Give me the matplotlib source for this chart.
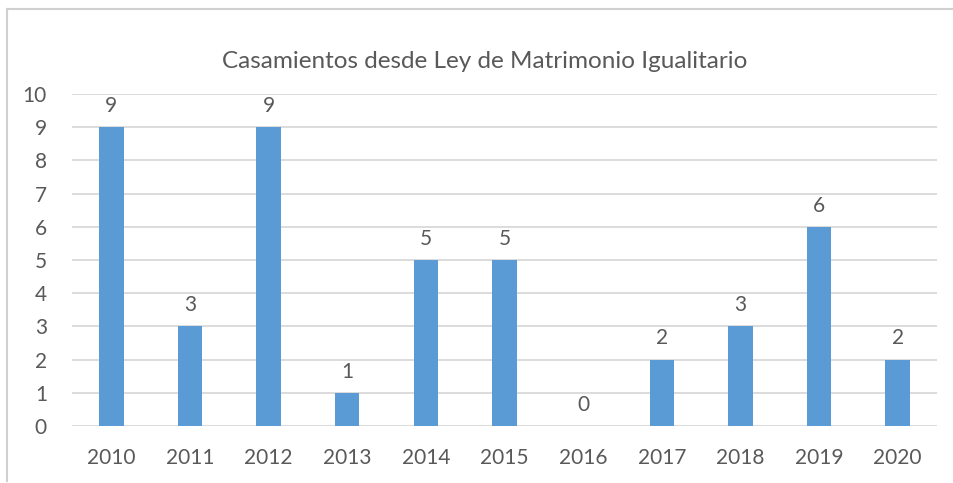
"""
Bar chart: casamientos por año desde la Ley de Matrimonio Igualitario.
"""

import matplotlib
matplotlib.use("Agg")
import matplotlib.pyplot as plt
from matplotlib.lines import Line2D

# ============================================
# Data
# ============================================
years = ["2010", "2011", "2012", "2013", "2014", "2015",
         "2016", "2017", "2018", "2019", "2020"]
casamientos = [9, 3, 9, 1, 5, 5, 0, 2, 3, 6, 2]
y_ticks = list(range(0, 11))

title = "Casamientos desde Ley de Matrimonio Igualitario"

bar_color = "#5B9BD5"
text_color = "#595959"
grid_color = "#D9D9D9"

plt.rcParams['font.family'] = ['Lato', 'DejaVu Sans']

# ============================================
# Plot
# ============================================
fig = plt.figure(figsize=(9.54, 4.83), dpi=100)
ax = fig.add_axes([72 / 954, 1 - 426 / 483, 865 / 954, 332 / 483])

x = list(range(len(years)))
ax.bar(x, casamientos, width=0.31, color=bar_color, zorder=3)

for xi, v in zip(x, casamientos):
    ax.annotate(str(v), (xi, v), xytext=(0, 8), textcoords="offset points",
                ha="center", va="bottom", fontsize=15, color=text_color)

ax.set_xlim(-0.5, len(years) - 0.5)
ax.set_ylim(0, 10)
ax.set_yticks(y_ticks)
ax.set_xticks(x)
ax.set_xticklabels(years)
ax.tick_params(axis="both", length=0, labelsize=15, colors=text_color)
ax.tick_params(axis="x", pad=16)
ax.tick_params(axis="y", pad=18)
ax.grid(axis="y", color=grid_color, linewidth=1.3, zorder=0)
for s in ax.spines.values():
    s.set_visible(False)

fig.text(485 / 954, 1 - 62 / 483, title, ha="center", va="center",
         fontsize=17.5, color=text_color)

# outer chart frame (top and left edges visible)
fig.add_artist(Line2D([7 / 954, 1], [1 - 9 / 483, 1 - 9 / 483],
                      transform=fig.transFigure, color="#D0D0D0", linewidth=1.5))
fig.add_artist(Line2D([7 / 954, 7 / 954], [1 - 9 / 483, 1 - 481 / 483],
                      transform=fig.transFigure, color="#D0D0D0", linewidth=1.5))

fig.savefig("out.png", dpi=100)
